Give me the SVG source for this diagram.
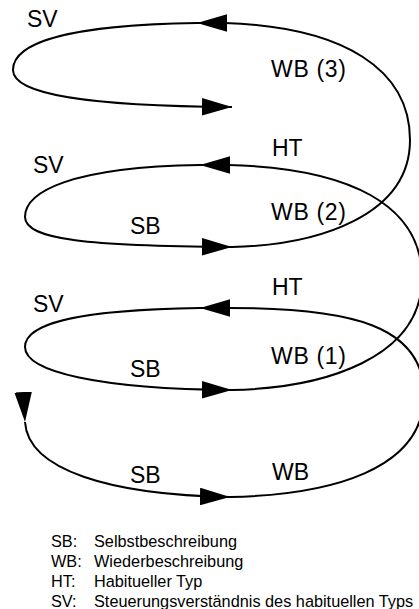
<svg xmlns="http://www.w3.org/2000/svg" width="419" height="609" viewBox="0 0 419 609">
<style>
.c{fill:none;stroke:#000;stroke-width:2}
.l{font-family:"Liberation Sans",Arial,sans-serif;font-size:23px;fill:#000}
.g{font-family:"Liberation Sans",Arial,sans-serif;font-size:16.3px;fill:#000}
</style>
<defs>
<marker id="arr" markerUnits="userSpaceOnUse" markerWidth="30" markerHeight="18" viewBox="0 0 29 17" refX="29" refY="8.5" orient="auto"><path d="M0,0 L29,8.5 L0,17 z" fill="#000"/></marker>
</defs>
<rect width="419" height="609" fill="#fff"/>
<g id="connectors">
<path class="c" marker-start="url(#arr)" marker-end="url(#arr)" d="M25,422 C28,470 110,495 230,497"/>
<path class="c" marker-end="url(#arr)" d="M230,497 C330,495 424,470 424,395 C424,325 350,308 229,308 L200,308"/>
<path class="c" marker-end="url(#arr)" d="M200,308 C70,310 25,325 25,347 C25,372 100,389 232,390"/>
<path class="c" marker-end="url(#arr)" d="M232,390 C325,388 422,358 422,278 C422,205 350,168 228,165 L200,165"/>
<path class="c" marker-end="url(#arr)" d="M200,165 C70,167 25,192 25,217 C25,240 90,246 232,247"/>
<path class="c" marker-end="url(#arr)" d="M232,247 C320,245 410,215 410,140 C410,70 345,27 225,23 L197,23"/>
<path class="c" marker-end="url(#arr)" d="M197,23 C60,25 13,45 13,70 C13,95 90,106 232,107"/>
</g>
<g id="labels">
<text class="l" x="27" y="27">SV</text>
<text class="l" x="271" y="77" textLength="75">WB (3)</text>
<text class="l" x="272" y="156">HT</text>
<text class="l" x="33" y="173">SV</text>
<text class="l" x="271" y="220" textLength="75">WB (2)</text>
<text class="l" x="130" y="234">SB</text>
<text class="l" x="272" y="295">HT</text>
<text class="l" x="33" y="312">SV</text>
<text class="l" x="271" y="364" textLength="75">WB (1)</text>
<text class="l" x="130" y="377">SB</text>
<text class="l" x="272" y="480">WB</text>
<text class="l" x="130" y="483">SB</text>
</g>
<g id="legend">
<text class="g" x="51" y="547">SB:</text><text class="g" x="94" y="547">Selbstbeschreibung</text>
<text class="g" x="51" y="567">WB:</text><text class="g" x="94" y="567">Wiederbeschreibung</text>
<text class="g" x="51" y="587">HT:</text><text class="g" x="94" y="587">Habitueller Typ</text>
<text class="g" x="51" y="607">SV:</text><text class="g" x="94" y="607">Steuerungsverständnis des habituellen Typs</text>
</g>
</svg>
